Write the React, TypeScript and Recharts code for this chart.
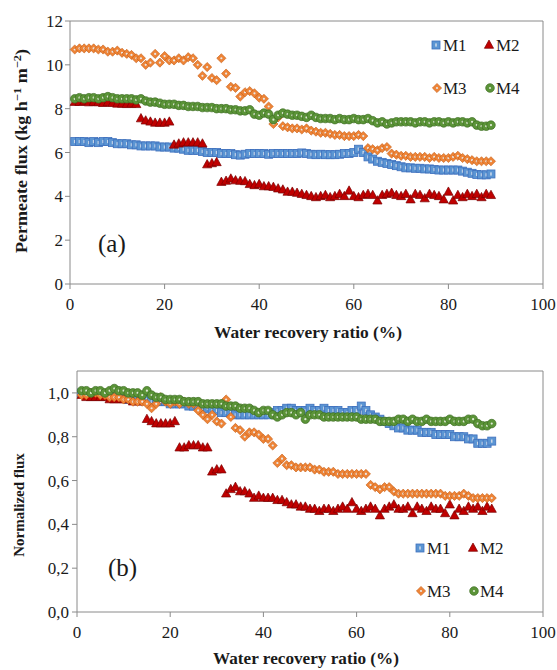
import { ScatterChart, Scatter, XAxis, YAxis, ReferenceLine } from 'recharts'

const RECOVERY = [
  1, 2, 3, 4, 5, 6, 7, 8, 9, 10, 11, 12, 13, 14, 15, 16, 17, 18, 19, 20,
  21, 22, 23, 24, 25, 26, 27, 28, 29, 30, 31, 32, 33, 34, 35, 36, 37, 38, 39, 40,
  41, 42, 43, 44, 45, 46, 47, 48, 49, 50, 51, 52, 53, 54, 55, 56, 57, 58, 59, 60,
  61, 62, 63, 64, 65, 66, 67, 68, 69, 70, 71, 72, 73, 74, 75, 76, 77, 78, 79, 80,
  81, 82, 83, 84, 85, 86, 87, 88, 89,
]

// (a) permeate flux, kg h-1 m-2
const FLUX_M1 = [
  6.5, 6.5, 6.5, 6.45, 6.5, 6.45, 6.5,
  6.5, 6.45, 6.4, 6.4, 6.4, 6.35, 6.35,
  6.3, 6.3, 6.3, 6.3, 6.25, 6.25, 6.25,
  6.2, 6.2, 6.15, 6.1, 6.1, 6.1, 6.05,
  6.0, 6.0, 6.0, 5.95, 5.95, 5.95, 5.9,
  5.88, 5.92, 5.95, 5.95, 5.95, 5.95, 5.92,
  5.95, 5.95, 5.95, 5.95, 5.95, 5.95, 5.98,
  5.95, 5.92, 5.9, 5.92, 5.9, 5.9, 5.9,
  5.92, 5.95, 5.95, 6.0, 6.15, 6.0, 5.8,
  5.7, 5.6, 5.55, 5.5, 5.45, 5.4, 5.35,
  5.3, 5.3, 5.28, 5.28, 5.25, 5.25, 5.22,
  5.2, 5.2, 5.2, 5.2, 5.2, 5.15, 5.1,
  5.05, 5.0, 4.98, 4.98, 5.02,
]
const FLUX_M2 = [
  8.3, 8.3, 8.32, 8.28, 8.3, 8.28, 8.25,
  8.28, 8.25, 8.22, 8.22, 8.2, 8.22, 8.2,
  7.55, 7.45, 7.4, 7.35, 7.35, 7.35, 7.4,
  6.35, 6.4, 6.45, 6.45, 6.45, 6.45, 6.4,
  5.45, 5.5, 5.55, 4.65, 4.7, 4.8, 4.72,
  4.7, 4.68, 4.55, 4.5, 4.55, 4.45, 4.45,
  4.42, 4.35, 4.3, 4.2, 4.2, 4.15, 4.1,
  4.05, 4.0, 3.95, 4.0, 4.05, 3.95, 4.0,
  4.1, 4.0, 4.25, 4.0, 3.95, 4.05, 4.1,
  4.05, 3.8, 4.05, 4.1, 4.15, 4.05, 4.0,
  4.1, 3.85, 4.1, 4.05, 3.9, 4.1, 4.05,
  4.0, 3.85, 4.2, 3.8, 4.05, 3.95, 4.1,
  4.0, 4.1, 3.95, 4.1, 4.05,
]
const FLUX_M3 = [
  10.7, 10.75, 10.75, 10.75, 10.75, 10.7, 10.7,
  10.6, 10.6, 10.65, 10.55, 10.5, 10.45, 10.3,
  10.3, 10.0, 10.1, 10.5, 10.1, 10.4, 10.2,
  10.2, 10.3, 10.2, 10.35, 10.3, 10.0, 9.5,
  9.9, 9.4, 9.3, 10.3, 9.6, 9.0, 8.95,
  8.55, 8.75, 8.8, 8.7, 8.5, 8.45, 8.1,
  7.3, 7.6, 7.2, 7.15, 7.1, 7.1, 7.05,
  7.1, 7.0, 6.95, 6.9, 6.9, 6.85, 6.8,
  6.8, 6.75, 6.75, 6.75, 6.8, 6.75, 6.2,
  6.15, 6.1, 6.2, 6.25, 5.95, 5.9, 5.85,
  5.85, 5.8, 5.8, 5.8, 5.8, 5.75, 5.8,
  5.75, 5.75, 5.75, 5.8, 5.85, 5.75, 5.7,
  5.65, 5.6, 5.6, 5.6, 5.6,
]
const FLUX_M4 = [
  8.45, 8.5, 8.45, 8.5, 8.5, 8.45, 8.5,
  8.55, 8.5, 8.45, 8.45, 8.45, 8.45, 8.4,
  8.45, 8.35, 8.3, 8.3, 8.25, 8.2, 8.2,
  8.2, 8.15, 8.15, 8.1, 8.1, 8.1, 8.05,
  8.05, 8.05, 8.0, 8.0, 8.0, 7.95, 7.95,
  7.9, 7.9, 7.95, 7.75, 7.7, 7.8, 7.75,
  7.5, 7.7, 7.8, 7.75, 7.7, 7.7, 7.65,
  7.6, 7.7, 7.6, 7.55, 7.55, 7.55, 7.5,
  7.55, 7.5, 7.5, 7.55, 7.5, 7.5, 7.55,
  7.45, 7.35, 7.4, 7.3, 7.35, 7.4, 7.4,
  7.4, 7.4, 7.35, 7.4, 7.4, 7.35, 7.4,
  7.4, 7.35, 7.4, 7.35, 7.4, 7.4, 7.35,
  7.4, 7.25, 7.2, 7.2, 7.25,
]

// (b) normalized flux
const NORM_M1 = [
  1.0, 1.0, 0.99, 0.99, 0.99, 0.99, 0.99,
  0.98, 0.98, 0.98, 0.97, 0.97, 0.97, 0.97,
  0.97, 0.96, 0.96, 0.96, 0.96, 0.95, 0.95,
  0.95, 0.95, 0.94, 0.94, 0.94, 0.93, 0.93,
  0.92, 0.92, 0.91, 0.91, 0.91, 0.9, 0.9,
  0.9, 0.9, 0.9, 0.9, 0.9, 0.9, 0.91,
  0.92, 0.92, 0.93, 0.93, 0.92, 0.92, 0.92,
  0.93, 0.92, 0.92, 0.93, 0.92, 0.92, 0.92,
  0.91, 0.91, 0.92, 0.92, 0.94, 0.92, 0.9,
  0.89, 0.88, 0.87, 0.86, 0.85, 0.84, 0.84,
  0.83, 0.83, 0.83, 0.82, 0.82, 0.82, 0.81,
  0.81, 0.81, 0.81, 0.8, 0.8, 0.8, 0.79,
  0.79, 0.77, 0.77, 0.77, 0.78,
]
const NORM_M2 = [
  0.99, 0.98, 0.98, 0.98, 0.98, 0.98, 0.97,
  0.97, 0.97, 0.97, 0.97, 0.96, 0.96, 0.96,
  0.88, 0.87, 0.86, 0.86, 0.86, 0.86, 0.87,
  0.75, 0.75, 0.76, 0.76, 0.76, 0.75, 0.75,
  0.64, 0.65, 0.65, 0.54, 0.56, 0.57, 0.55,
  0.55, 0.54, 0.52, 0.53, 0.52, 0.52, 0.52,
  0.51, 0.51, 0.5, 0.49, 0.49, 0.48, 0.48,
  0.47, 0.47, 0.46, 0.47, 0.47, 0.46, 0.47,
  0.48, 0.47, 0.5, 0.47, 0.46, 0.47, 0.48,
  0.47, 0.44, 0.47, 0.48, 0.49, 0.47, 0.47,
  0.48, 0.45, 0.48, 0.47, 0.46, 0.48, 0.47,
  0.47, 0.45, 0.49, 0.44, 0.47, 0.46, 0.48,
  0.47, 0.48, 0.46, 0.48, 0.47,
]
const NORM_M3 = [
  0.99, 0.99, 1.0, 1.0, 0.99, 0.99, 0.98,
  0.98, 0.98, 0.97, 0.97, 0.96, 0.96, 0.96,
  0.95, 0.93, 0.95, 0.98, 0.96, 0.95, 0.96,
  0.95, 0.96, 0.95, 0.95, 0.92, 0.9, 0.88,
  0.9, 0.87, 0.86, 0.97, 0.89, 0.84, 0.83,
  0.8, 0.82, 0.82, 0.81, 0.79, 0.79, 0.76,
  0.68, 0.7, 0.67, 0.67, 0.66, 0.66, 0.66,
  0.66, 0.65, 0.65, 0.64, 0.64, 0.64, 0.63,
  0.63, 0.63, 0.63, 0.63, 0.63, 0.63, 0.58,
  0.57, 0.56, 0.57, 0.57, 0.55, 0.54, 0.54,
  0.54, 0.54, 0.54, 0.54, 0.54, 0.54, 0.54,
  0.54, 0.53, 0.53, 0.53, 0.53, 0.54, 0.53,
  0.52, 0.52, 0.52, 0.52, 0.52,
]
const NORM_M4 = [
  1.01, 1.01, 1.0, 1.01, 1.01, 1.0, 1.01,
  1.02, 1.01, 1.01, 1.0, 1.0, 1.0, 0.99,
  1.01, 0.99, 0.98, 0.98, 0.97, 0.97, 0.97,
  0.97, 0.96, 0.96, 0.96, 0.96, 0.95, 0.95,
  0.95, 0.95, 0.95, 0.94, 0.94, 0.94, 0.93,
  0.93, 0.93, 0.92, 0.91, 0.92, 0.92, 0.9,
  0.89, 0.9, 0.91, 0.91, 0.9, 0.91, 0.88,
  0.9, 0.9, 0.9, 0.89, 0.89, 0.89, 0.89,
  0.89, 0.89, 0.89, 0.89, 0.88, 0.88, 0.88,
  0.88, 0.87, 0.87, 0.87, 0.87, 0.88, 0.88,
  0.87, 0.88, 0.87, 0.87, 0.88, 0.87, 0.87,
  0.87, 0.87, 0.88, 0.87, 0.87, 0.87, 0.88,
  0.88, 0.86, 0.85, 0.85, 0.86,
]

const X_TICKS = [0, 20, 40, 60, 80, 100]
const FLUX_TICKS = [0, 2, 4, 6, 8, 10, 12]
const NORM_TICKS = [0, 0.2, 0.4, 0.6, 0.8, 1.0]

const FONT = '"Times New Roman", "Liberation Serif", Tinos, Times, serif'
const AXIS = '#8a8a8a'
const INK = '#1a1a1a'

const toPoints = (ys: number[]) => RECOVERY.map((x, i) => ({ x, y: ys[i] }))

// Excel-like markers, solid with a small highlight
const Square = ({ cx, cy }: any) => (
  <g>
    <rect x={cx - 4} y={cy - 4} width={8} height={8} fill="#5b95d3" stroke="#3f70bd" strokeWidth={0.8} />
    <rect x={cx - 0.8} y={cy - 1.6} width={1.6} height={3.2} fill="#c9d7e8" />
  </g>
)
const Triangle = ({ cx, cy }: any) => (
  <polygon points={`${cx},${cy - 5} ${cx + 4.6},${cy + 3.3} ${cx - 4.6},${cy + 3.3}`}
    fill="#c00000" stroke="#7a0000" strokeWidth={0.7} />
)
const Diamond = ({ cx, cy }: any) => (
  <g>
    <polygon points={`${cx},${cy - 4.6} ${cx + 4.6},${cy} ${cx},${cy + 4.6} ${cx - 4.6},${cy}`}
      fill="#ee8437" stroke="#c55a11" strokeWidth={0.6} />
    <circle cx={cx} cy={cy} r={1.1} fill="#e8e8e8" />
  </g>
)
const Circle = ({ cx, cy }: any) => (
  <g>
    <circle cx={cx} cy={cy} r={4.3} fill="#5b9438" stroke="#3d6e22" strokeWidth={0.7} />
    <circle cx={cx} cy={cy} r={1.1} fill="#dfe9d6" />
  </g>
)

const tick = { fill: INK, fontSize: 17, fontFamily: FONT, style: { fontFamily: FONT } }

function LegendBlock({ x, y }: { x: number; y: number }) {
  const t = { fontSize: 17, fill: INK, style: { fontFamily: FONT } }
  return (
    <g>
      <Square cx={x} cy={y} />
      <text x={x + 7} y={y + 6} {...t}>M1</text>
      <Triangle cx={x + 53} cy={y} />
      <text x={x + 60} y={y + 6} {...t}>M2</text>
      <Diamond cx={x + 1} cy={y + 43} />
      <text x={x + 7} y={y + 49} {...t}>M3</text>
      <Circle cx={x + 54} cy={y + 43} />
      <text x={x + 60} y={y + 49} {...t}>M4</text>
    </g>
  )
}

const title = { fontWeight: 'bold' as const, fill: INK, style: { fontFamily: FONT } }

export default function App() {
  return (
    <div style={{ position: 'absolute', left: 0, top: 0, width: 557, height: 670, background: '#fff', overflow: 'hidden', fontFamily: FONT }}>
      <div style={{ position: 'absolute', left: 0, top: 0 }}>
        <ScatterChart width={557} height={330} margin={{ top: 21, right: 14, bottom: 16, left: 0 }} style={{ fontFamily: FONT }}>
          <XAxis type="number" dataKey="x" domain={[0, 100]} ticks={X_TICKS} tick={tick}
            stroke={AXIS} tickSize={5} tickMargin={9} height={30} />
          <YAxis type="number" dataKey="y" domain={[0, 12]} ticks={FLUX_TICKS} tick={tick}
            stroke={AXIS} tickSize={5} tickMargin={2} width={70} />
          <ReferenceLine y={12} stroke={AXIS} />
          <ReferenceLine x={100} stroke={AXIS} />
          <Scatter data={toPoints(FLUX_M1)} shape={Square} isAnimationActive={false} />
          <Scatter data={toPoints(FLUX_M2)} shape={Triangle} isAnimationActive={false} />
          <Scatter data={toPoints(FLUX_M3)} shape={Diamond} isAnimationActive={false} />
          <Scatter data={toPoints(FLUX_M4)} shape={Circle} isAnimationActive={false} />
        </ScatterChart>
      </div>
      <div style={{ position: 'absolute', left: 0, top: 330 }}>
        <ScatterChart width={557} height={340} margin={{ top: 41, right: 14, bottom: 28, left: 0 }} style={{ fontFamily: FONT }}>
          <XAxis type="number" dataKey="x" domain={[0, 100]} ticks={X_TICKS} tick={tick}
            stroke={AXIS} tickSize={5} tickMargin={9} height={30} />
          <YAxis type="number" dataKey="y" domain={[0, 1.1]} ticks={NORM_TICKS} tick={tick}
            tickFormatter={(v: number) => v.toFixed(1).replace('.', ',')}
            stroke={AXIS} tickSize={5} tickMargin={3} width={77} />
          <ReferenceLine y={1.1} stroke={AXIS} />
          <ReferenceLine x={100} stroke={AXIS} />
          <Scatter data={toPoints(NORM_M1)} shape={Square} isAnimationActive={false} />
          <Scatter data={toPoints(NORM_M2)} shape={Triangle} isAnimationActive={false} />
          <Scatter data={toPoints(NORM_M3)} shape={Diamond} isAnimationActive={false} />
          <Scatter data={toPoints(NORM_M4)} shape={Circle} isAnimationActive={false} />
        </ScatterChart>
      </div>
      <svg width={557} height={670} style={{ position: 'absolute', left: 0, top: 0, pointerEvents: 'none' }}>
        <text transform="translate(27,151) rotate(-90)" textAnchor="middle" fontSize={16} {...title}
          textLength={204} lengthAdjust="spacingAndGlyphs">
          Permeate flux (kg h<tspan dy={-6} fontSize={11}>−1</tspan><tspan dy={6}> m</tspan><tspan dy={-6} fontSize={11}>−2</tspan><tspan dy={6}>)</tspan>
        </text>
        <text x={308} y={338} textAnchor="middle" fontSize={17} {...title}
          textLength={188} lengthAdjust="spacingAndGlyphs">Water recovery ratio (%)</text>
        <text x={98} y={252} fontSize={25} fill={INK} style={{ fontFamily: FONT }}>(a)</text>
        <LegendBlock x={436} y={45} />

        <text transform="translate(24,505) rotate(-90)" textAnchor="middle" fontSize={15} {...title}>Normalized flux</text>
        <text x={306} y={664} textAnchor="middle" fontSize={17} {...title}
          textLength={186} lengthAdjust="spacingAndGlyphs">Water recovery ratio (%)</text>
        <text x={108} y={576} fontSize={25} fill={INK} style={{ fontFamily: FONT }}>(b)</text>
        <LegendBlock x={420} y={548} />
      </svg>
    </div>
  )
}
